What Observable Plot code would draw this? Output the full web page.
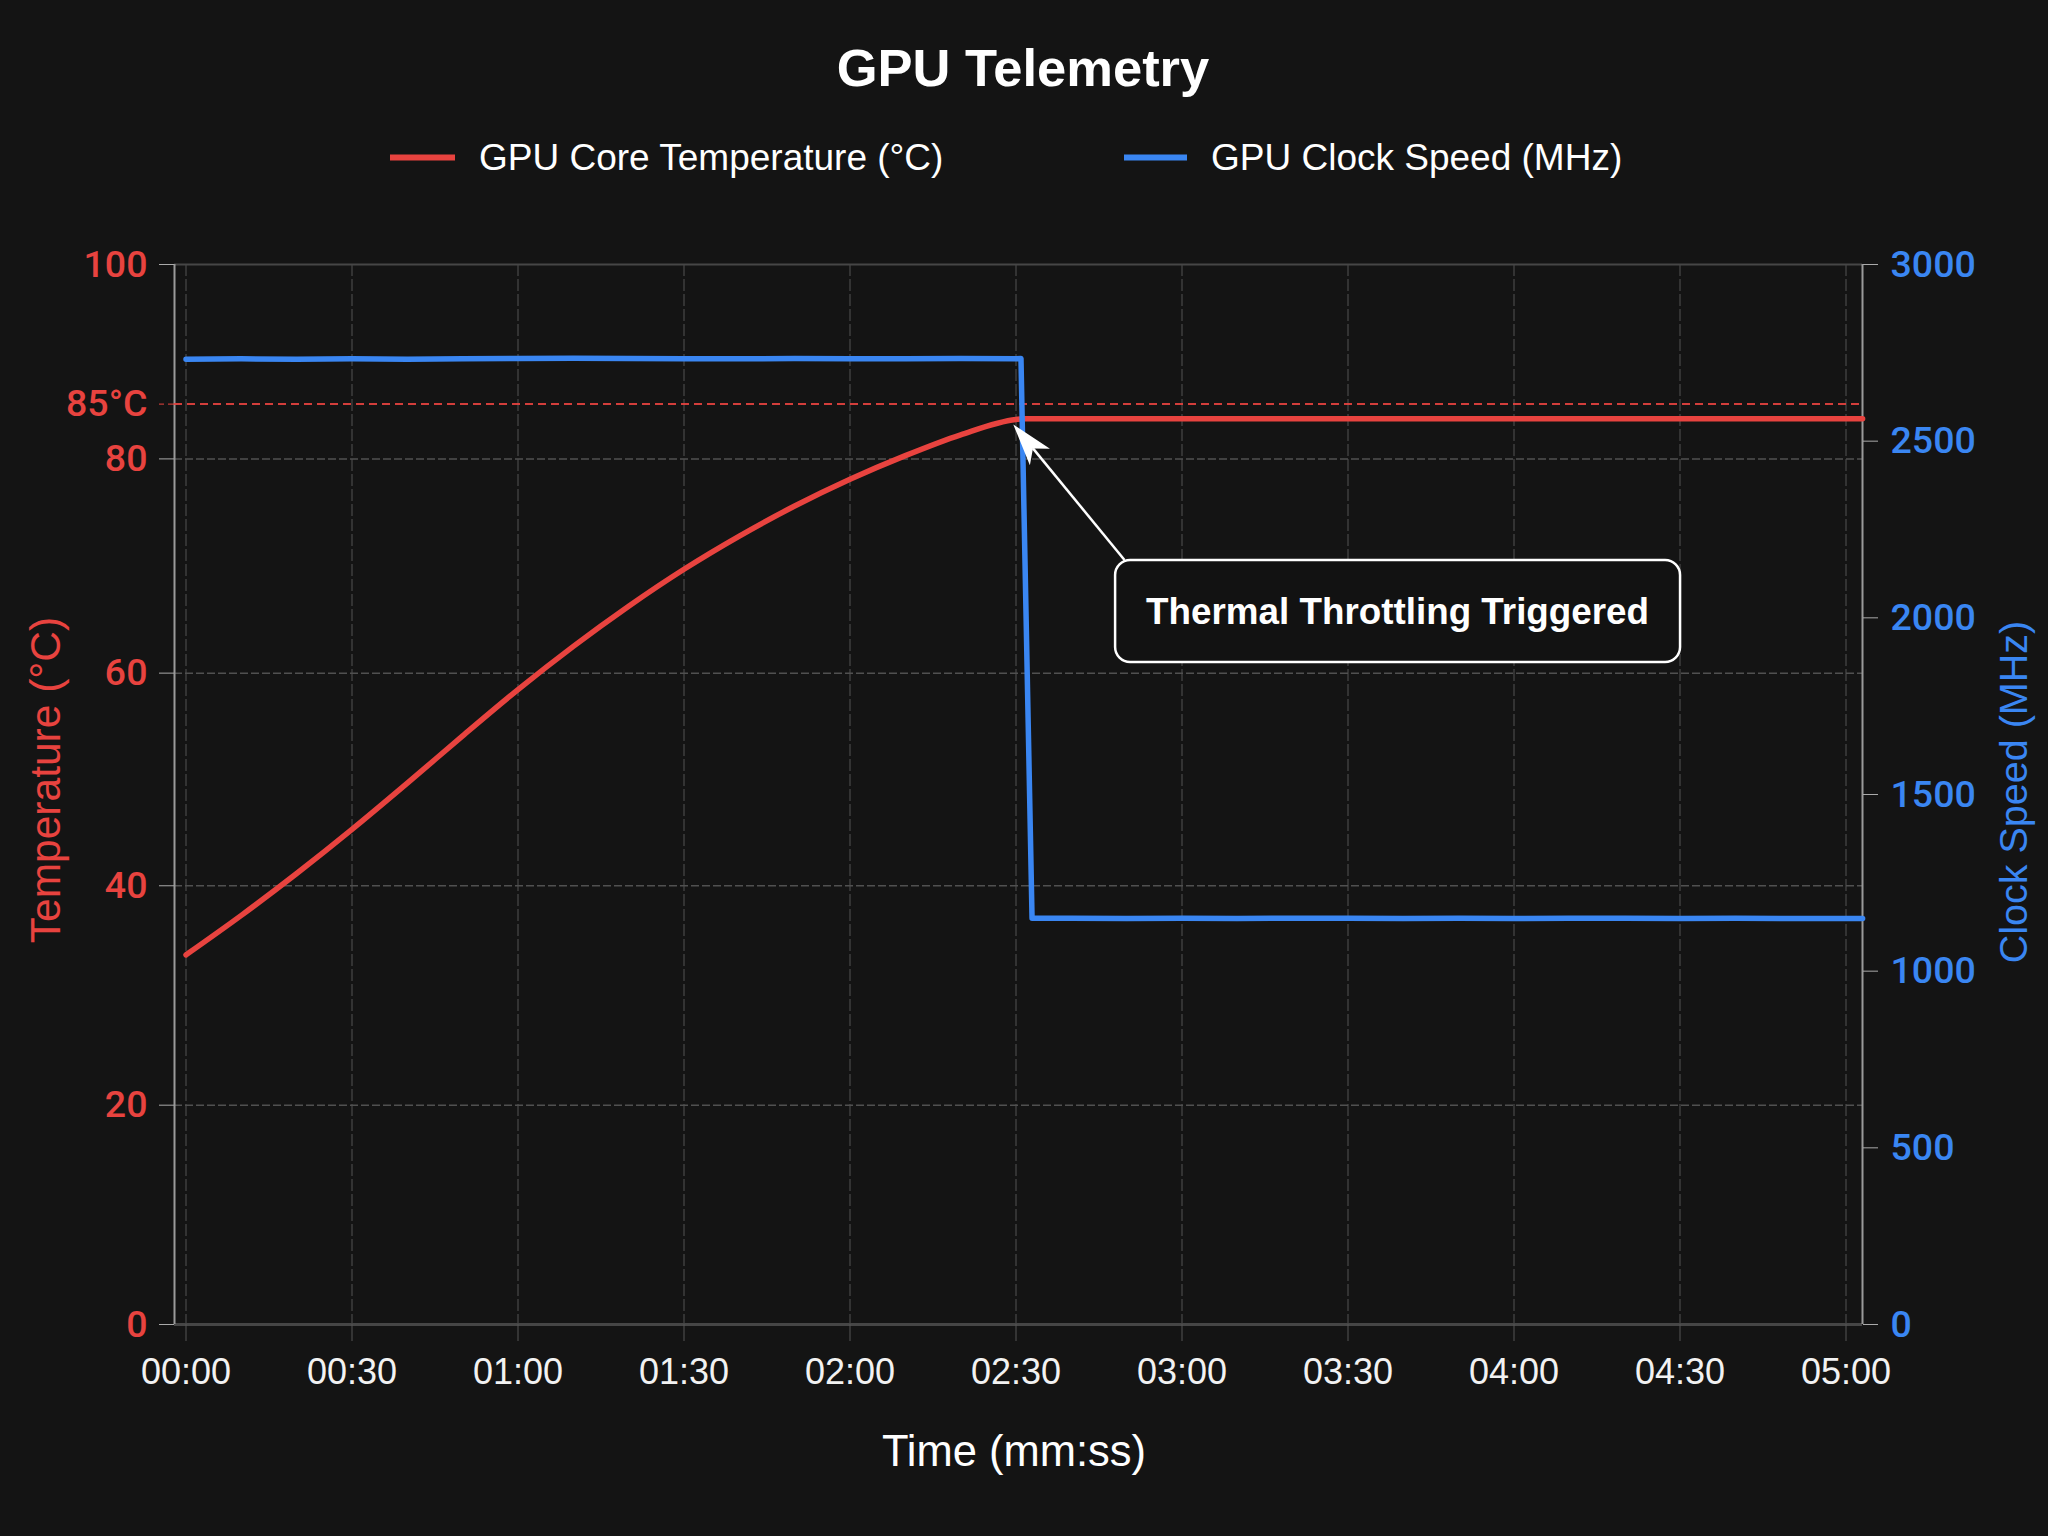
<!DOCTYPE html>
<html>
<head>
<meta charset="utf-8">
<script src="https://cdn.jsdelivr.net/npm/d3@7"></script>
<script src="https://cdn.jsdelivr.net/npm/@observablehq/plot@0.6"></script>
<style>
  html, body { margin: 0; padding: 0; background: #141414; }
  #chart { width: 2048px; height: 1536px; }
</style>
</head>
<body>
<div id="chart"></div>
<script>
// ---------------- data ----------------
const chartTitle = "GPU Telemetry";
const seriesNames = ["GPU Core Temperature (°C)", "GPU Clock Speed (MHz)"];

// temperature (°C) vs time (s)
const tempTimes  = [0, 10, 20, 30, 40, 50, 60, 70, 80, 90, 100, 110, 120, 130, 140, 150, 151.5, 303];
const tempValues = [33.7, 37.3, 41.15, 45.3, 49.65, 54.1, 58.45, 62.5, 66.25, 69.7, 72.8, 75.6, 78.1, 80.3, 82.2, 83.6, 83.66, 83.66];

// clock speed (MHz) vs time (s)
const clockTimes  = [0, 10, 20, 30, 40, 50, 60, 70, 80, 90, 100, 110, 120, 130, 140, 150, 150.9,
                     152.9, 160, 170, 180, 190, 200, 210, 220, 230, 240, 250, 260, 270, 280, 290, 300, 303];
const clockValues = [2732, 2733, 2732, 2733, 2732, 2733, 2734, 2735, 2734, 2733, 2733, 2734, 2733, 2733, 2734, 2733, 2734,
                     1150, 1150, 1149, 1150, 1149, 1150, 1150, 1149, 1150, 1149, 1150, 1150, 1149, 1150, 1149, 1149, 1149];

// tick values
const timeTicks  = [0, 30, 60, 90, 120, 150, 180, 210, 240, 270, 300];
const tempTicks  = [0, 20, 40, 60, 80, 100];
const clockTicks = [0, 500, 1000, 1500, 2000, 2500, 3000];
const thresholdTemp = [85];
const thresholdLabel = "85°C";

// annotation (data space: seconds, °C)
const annText = "Thermal Throttling Triggered";
const annBox  = {t1: 168.0, t2: 270.1, v1: 61.0, v2: 70.52};
const annTip  = {t: 149.6, v: 83.1};
const annTail = {t: 169.7, v: 70.52};

// ---------------- layout / style ----------------
const W = 2048, H = 1536;
const frame = {left: 174, right: 1862, top: 264, bottom: 1324};
const xRange = [185.5, 1845.5];
// the reference's left (temperature) axis is slightly uneven: piecewise knots,
// expressed as fractions of the plot height (0 = bottom, 1 = top)
const tempKnots     = [0, 20, 40, 60, 80, 85, 100];
const tempKnotsFrac = [0, 0.2069, 0.4139, 0.6145, 0.8166, 0.8683, 1];
const RED = "#e8433f", BLUE = "#3a86f2";
const FONT = "'Liberation Sans', Arial, sans-serif";
const TICKFONT = "Roboto, 'Liberation Sans', Arial, sans-serif";

// y scale of the plot is in clock units (linear 0–3000); temperatures map onto it
const tempFrac = d3.scaleLinear(tempKnots, tempKnotsFrac);
const tempToY  = v => tempFrac(v) * 3000;
const xLin     = d3.scaleLinear([0, 300], xRange);

const temps  = tempTimes.map((t, i) => ({t, v: tempToY(tempValues[i])}));
const clocks = clockTimes.map((t, i) => ({t, v: clockValues[i]}));

const fmt = s => `${String(Math.floor(s / 60)).padStart(2, "0")}:${String(s % 60).padStart(2, "0")}`;

function decorations(index, scales) {
  const {x, y} = scales;
  const g = d3.create("svg:g").attr("font-family", FONT).attr("text-anchor", "start");
  // title
  g.append("text").attr("x", 1023).attr("y", 86).attr("text-anchor", "middle")
    .attr("fill", "#fff").attr("font-size", 52.5).attr("font-weight", "bold").text(chartTitle);
  // legend
  const leg = [
    {x0: 390, x1: 455, tx: 479, color: RED, label: seriesNames[0]},
    {x0: 1124, x1: 1187, tx: 1211, color: BLUE, label: seriesNames[1]}
  ];
  for (const l of leg) {
    g.append("line").attr("x1", l.x0).attr("x2", l.x1).attr("y1", 157.5).attr("y2", 157.5)
      .attr("stroke", l.color).attr("stroke-width", 6);
    g.append("text").attr("x", l.tx).attr("y", 170).attr("fill", "#fff").attr("text-anchor", "start")
      .attr("font-size", 37).text(l.label);
  }
  // axis titles
  g.append("text").attr("x", 1014).attr("y", 1466).attr("text-anchor", "middle")
    .attr("fill", "#fff").attr("font-size", 43.5).text("Time (mm:ss)");
  g.append("text").attr("transform", "translate(60,780) rotate(-90)").attr("text-anchor", "middle")
    .attr("fill", RED).attr("font-size", 42.5).text("Temperature (°C)");
  g.append("text").attr("transform", "translate(2027,792) rotate(-90)").attr("text-anchor", "middle")
    .attr("fill", BLUE).attr("font-size", 39.5).text("Clock Speed (MHz)");

  // annotation arrow
  const tx = x(annTip.t), ty = y(tempToY(annTip.v));
  const sx = x(annTail.t), sy = y(tempToY(annTail.v));
  const dx = sx - tx, dy = sy - ty, len = Math.hypot(dx, dy);
  const ux = dx / len, uy = dy / len, px = -uy, py = ux;
  const hl = 42, hw = 13, notch = 31;
  g.append("line").attr("x1", tx + ux * notch).attr("y1", ty + uy * notch).attr("x2", sx).attr("y2", sy)
    .attr("stroke", "#fff").attr("stroke-width", 2.5);
  g.append("path")
    .attr("d", `M${tx},${ty}L${tx + ux * hl + px * hw},${ty + uy * hl + py * hw}L${tx + ux * notch},${ty + uy * notch}L${tx + ux * hl - px * hw},${ty + uy * hl - py * hw}Z`)
    .attr("fill", "#fff");
  // annotation box
  const bx = x(annBox.t1), by = y(tempToY(annBox.v2));
  const bw = x(annBox.t2) - bx, bh = y(tempToY(annBox.v1)) - by;
  g.append("rect").attr("x", bx).attr("y", by).attr("width", bw).attr("height", bh).attr("rx", 15)
    .attr("fill", "#121212").attr("stroke", "#fff").attr("stroke-width", 2.5);
  g.append("text").attr("x", bx + bw / 2).attr("y", by + bh / 2 + 13).attr("text-anchor", "middle")
    .attr("fill", "#fff").attr("font-size", 36.8).attr("font-weight", "bold").text(annText);
  return g.node();
}

const chart = Plot.plot({
  width: W, height: H,
  marginLeft: frame.left, marginRight: W - frame.right, marginTop: frame.top, marginBottom: H - frame.bottom,
  style: {background: "#141414", color: "#fff", fontFamily: FONT, overflow: "visible"},
  x: {domain: [0, 300], range: xRange},
  y: {domain: [0, 3000]},
  marks: [
    Plot.gridX(timeTicks, {stroke: "#3e3e3e", strokeOpacity: 1, strokeWidth: 1.5, strokeDasharray: "12,3"}),
    Plot.gridY(tempTicks.slice(1, -1), {y: tempToY, stroke: "#505050", strokeOpacity: 1, strokeWidth: 1.5, strokeDasharray: "8,3"}),
    Plot.ruleY([3000], {stroke: "#464646", strokeWidth: 2}),
    Plot.ruleY([0], {stroke: "#464646", strokeWidth: 3}),
    Plot.ruleX([xLin.invert(frame.left)], {stroke: "#9a9a9a", strokeWidth: 2}),
    Plot.ruleX([xLin.invert(frame.right)], {stroke: "#9a9a9a", strokeWidth: 2}),
    Plot.axisX(timeTicks, {tickFormat: fmt, tickSize: 17, tickPadding: 17, stroke: "#555", fill: "#f2f2f2",
      fontSize: 36, label: null}),
    Plot.axisY(tempTicks, {anchor: "left", y: tempToY, tickFormat: d => String(d), tickSize: 15, tickPadding: 12,
      stroke: "#aaa", fill: RED, fontSize: 37.5, fontFamily: TICKFONT, fontWeight: 500, label: null}),
    Plot.axisY(thresholdTemp, {anchor: "left", y: tempToY, tickFormat: () => thresholdLabel, tickSize: 15, tickPadding: 12,
      stroke: RED, fill: RED, strokeDasharray: "6,4", fontSize: 37.5, fontFamily: TICKFONT, fontWeight: 500, label: null}),
    Plot.axisY(clockTicks, {anchor: "right", tickFormat: d => String(d), tickSize: 15, tickPadding: 13,
      stroke: "#aaa", fill: BLUE, fontSize: 37.5, fontFamily: TICKFONT, fontWeight: 500, label: null}),
    Plot.ruleY(thresholdTemp, {y: tempToY, stroke: RED, strokeWidth: 2, strokeDasharray: "8,5", strokeOpacity: 0.9}),
    Plot.line(temps, {x: "t", y: "v", stroke: RED, strokeWidth: 5.5, curve: "monotone-x"}),
    Plot.line(clocks, {x: "t", y: "v", stroke: BLUE, strokeWidth: 5.5, strokeLinejoin: "round"}),
    decorations
  ]
});
document.getElementById("chart").appendChild(chart);
</script>
</body>
</html>
